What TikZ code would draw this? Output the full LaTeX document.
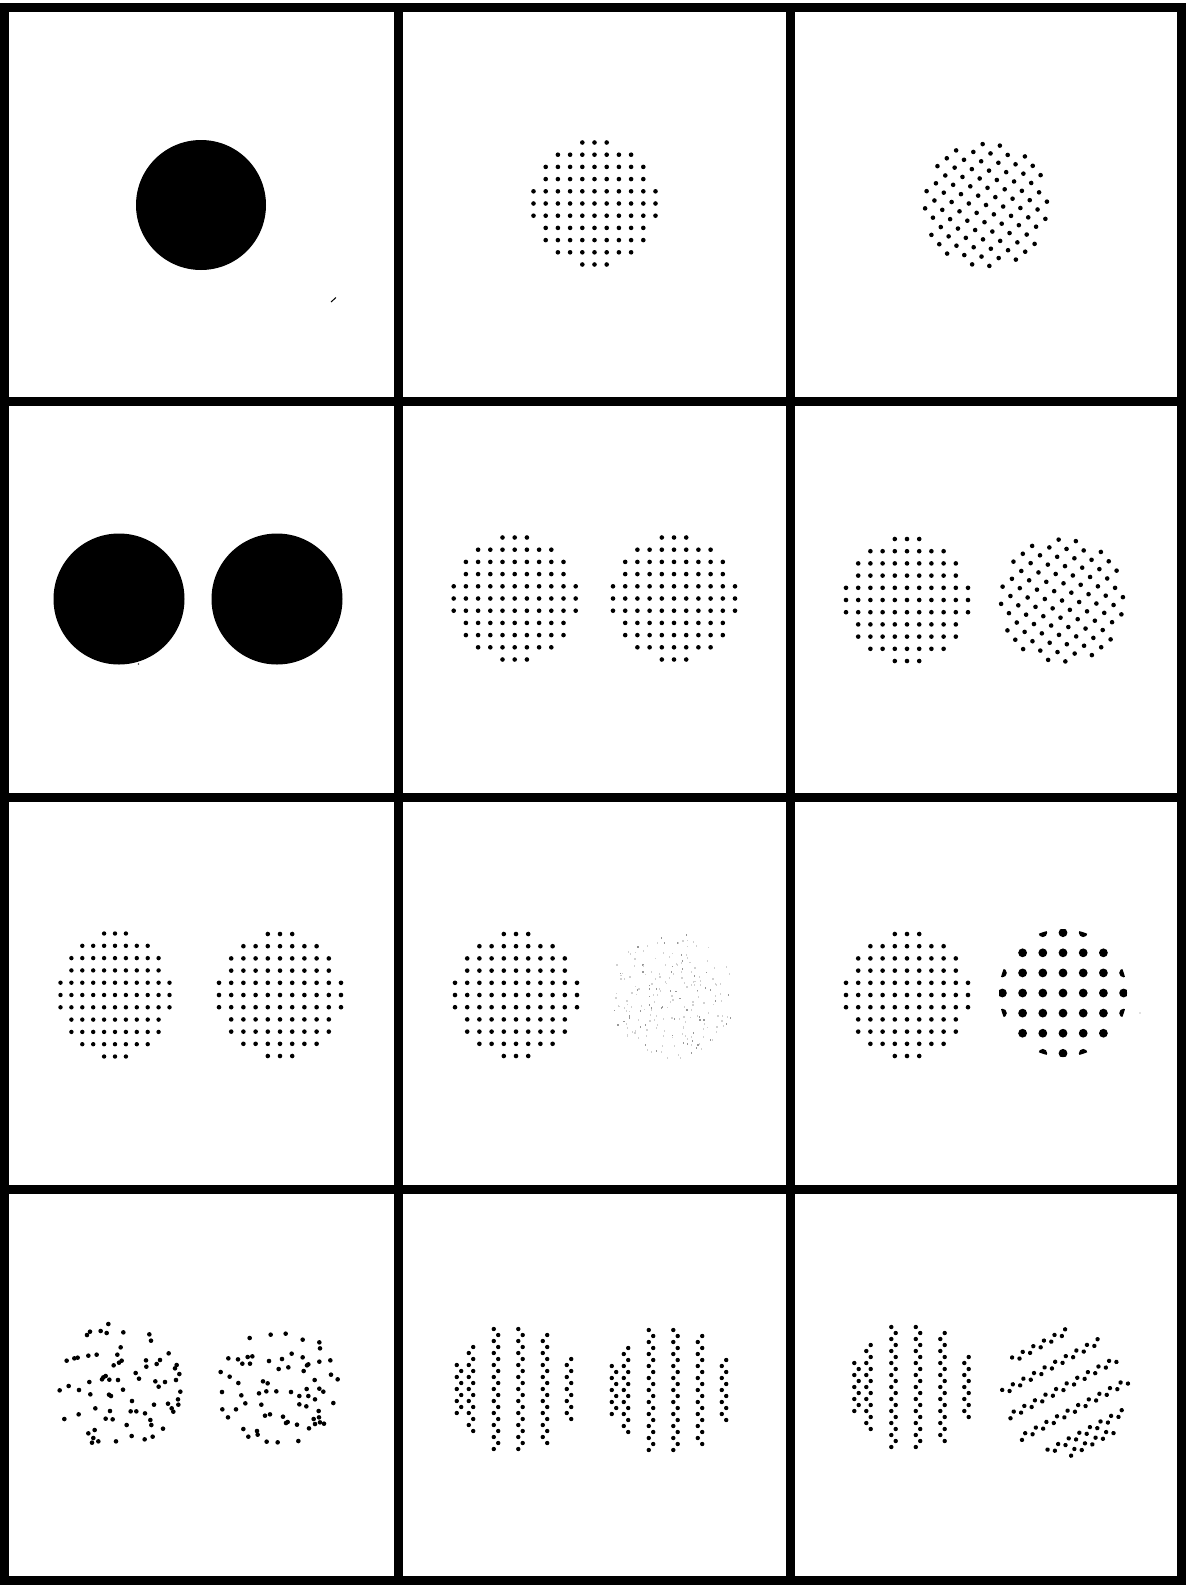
\documentclass[tikz,border=0pt]{standalone}
\tikzset{
  gridline/.style={line width=4.5pt},
  dotfill/.style={fill=black},
}
\newcommand{\SqGrid}[5]{%
  \foreach \i in {-5,...,5}{\foreach \j in {-5,...,5}{%
    \pgfmathtruncatemacro{\rr}{\i*\i+\j*\j}%
    \ifnum\rr<28\relax \fill[dotfill] ({#1+\i*#3},{#2+\j*#4}) circle[radius=#5];\fi
  }}}
\newcommand{\RotGrid}[3]{%
  \begin{scope}[shift={(#1,#2)},rotate=#3]
  \foreach \i in {-5,...,5}{\foreach \j in {-5,...,5}{%
    \pgfmathtruncatemacro{\rr}{\i*\i+\j*\j}%
    \ifnum\rr<28\relax \fill[dotfill] ({\i*12.2},{\j*12.2}) circle[radius=2.3];\fi
  }}
  \end{scope}}
\newcommand{\Stripes}[3]{%
  \begin{scope}[shift={(#1,#2)},rotate=#3]
  \foreach \s in {-56,-44,-19,5.5,30,54}{\foreach \k in {-11,...,11}{%
    \pgfmathtruncatemacro{\ins}{((\s)*(\s)+36*\k*\k)<=3969 ? 1 : 0}%
    \ifnum\ins=1\relax
      \pgfmathsetmacro{\xx}{\s+2.2*(2*mod(abs(\k),2)-1)}%
      \fill[dotfill] (\xx,{6*\k}) circle[radius=2.2];\fi
  }}
  \end{scope}}
\begin{document}
\begin{tikzpicture}[x=0.5pt,y=-0.5pt]
\useasboundingbox (0,0) rectangle (1185,1585);
\fill[white] (0,0) rectangle (1185,1585);

% ---------- row 1 ----------
\fill[dotfill] (201,205) circle[radius=65];
\SqGrid{594.5}{203.5}{12.2}{12.2}{2.3}
\RotGrid{986}{205}{40}
\draw[line width=0.5pt] (331,302) -- (336,297.5);

% ---------- row 2 ----------
\fill[dotfill] (119,599) circle[radius=65.5];
\fill[dotfill] (277,599) circle[radius=65.5];
\fill[black!70] (138.5,664) circle[radius=0.8];
\SqGrid{514.7}{598.5}{12.2}{12.2}{2.3}
\SqGrid{674}{598.5}{12.2}{12.2}{2.3}
\SqGrid{907}{600}{12.2}{12.2}{2.3}
\RotGrid{1062}{600.5}{40}

% ---------- row 3 ----------
\SqGrid{115}{995}{10.9}{12.3}{2.2}
\SqGrid{280}{995}{12.2}{12.2}{2.3}
\SqGrid{516}{995}{12.2}{12.2}{2.3}
\pgfmathsetseed{7}
\foreach \n in {1,...,220}{%
  \pgfmathsetmacro{\ra}{63*sqrt(rnd)}%
  \pgfmathsetmacro{\th}{360*rnd}%
  \pgfmathtruncatemacro{\gg}{rnd<0.3 ? 40 : 18}%
  \fill[black!\gg] ({671+\ra*cos(\th)},{995+\ra*sin(\th)}) rectangle ++(1.2,1.8);
}
\SqGrid{907}{995}{12.2}{12.2}{2.3}
\begin{scope}
  \clip (1063,993) circle[radius=64];
  \foreach \i in {-3,...,3}{\foreach \j in {-3,...,3}{%
    \pgfmathtruncatemacro{\rr}{\i*\i+\j*\j}%
    \ifnum\rr<11\relax \fill[dotfill] ({1063+\i*20.2},{993+\j*20.1}) circle[radius=4.4];\fi
  }}
\end{scope}
\fill[black!50] (1140,1013) circle[radius=0.7];

% ---------- row 4 ----------
\foreach \X/\Y in {141/375,150/365,182/363,200/369,205/342,250/367,328/373,333/392,242/412,232/434,80/452,103/445,113/443,145/437,170/434,245/452,237/458,221/466,318/451,319/470,386/430,360/450,350/462,410/465,405/475,418/492,287/489,297/506,190/502,186/508,197/498,208/509,234/510,148/516,86/528,59/541,117/540,151/553,207/554,213/558,249/539,346/514,356/530,375/516,408/510,421/545,276/573,342/584,384/581,414/568,415/584,395/595,400/605,166/595,210/603,272/604,289/604,315/610,331/630,334/645,116/613,73/627,197/626,218/628,260/645,369/656,145/670,164/660,160/684,156/698,175/694,228/694,275/678,314/688,338/680,
629/384,692/374,737/371,788/389,838/397,840/415,565/445,594/448,607/461,623/441,637/439,630/461,687/453,726/447,755/431,788/442,805/463,801/466,838/455,871/451,716/477,745/472,791/483,542/486,569/500,595/519,669/514,683/520,824/510,873/494,893/508,546/546,604/556,657/550,679/544,709/544,753/546,778/558,800/537,805/558,838/536,850/545,825/568,880/579,616/580,664/584,778/583,799/589,547/598,588/598,564/622,675/617,690/613,729/620,836/603,837/622,821/627,738/639,743/636,771/644,825/642,840/637,852/641,807/655,610/657,651/663,653/674,625/680,680/695,713/697,775/693}
  \fill[dotfill] ({40+\X/3},{1210+\Y/3}) circle[radius=2.3];
\Stripes{515}{1389}{0}
\Stripes{670}{1390}{0}
\Stripes{912.5}{1387}{0}
\Stripes{1065}{1393}{118}

% ---------- grid ----------
\draw[gridline] (4,7.5) rectangle (1181.5,1580);
\draw[gridline] (398.5,3) -- (398.5,1585);
\draw[gridline] (790.5,3) -- (790.5,1585);
\draw[gridline] (0,401) -- (1185,401);
\draw[gridline] (0,797.5) -- (1185,797.5);
\draw[gridline] (0,1189.5) -- (1185,1189.5);
\end{tikzpicture}
\end{document}
